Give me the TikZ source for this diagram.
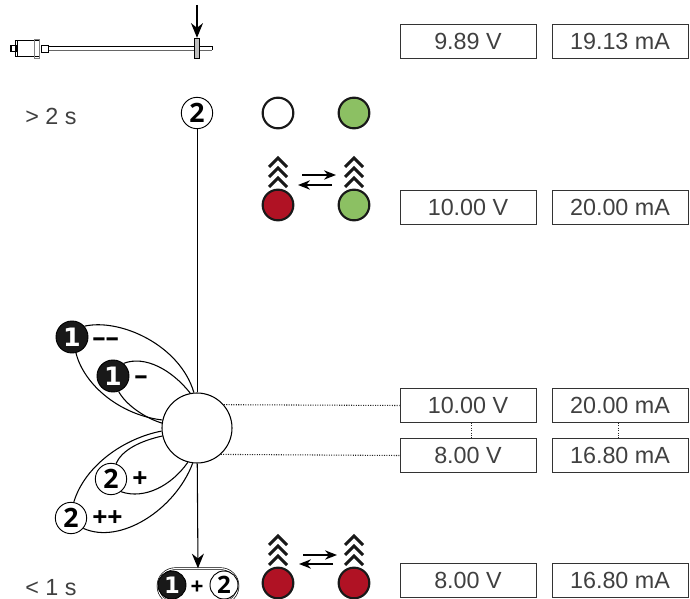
\documentclass[tikz,border=0pt]{standalone}
\usepackage{fontspec}
\setmainfont{Liberation Sans}
\newfontfamily\twofont{Open Sans}
\newfontfamily\onefont{DejaVu Sans}
\usepackage{xcolor}
\usepackage{tikz}
\usetikzlibrary{arrows.meta}
\definecolor{lampgreen}{HTML}{8CC063}
\definecolor{lampred}{HTML}{B01224}
\tikzstyle{valbox} = [rectangle, minimum width=102pt, minimum height=25.5pt, inner sep=0pt, draw=black!80, line width=0.7pt, text=black!75, font=\fontsize{17.5}{18}\selectfont]
\tikzstyle{timetext} = [text=black!75, font=\fontsize{17.5}{18}\selectfont, inner sep=0pt]
\tikzstyle{lamp} = [circle, minimum size=23pt, inner sep=0pt, draw=black!90, line width=1.6pt]
\tikzstyle{keytwo} = [circle, minimum size=23.5pt, inner sep=0pt, draw=black, line width=0.7pt, fill=white, font=\twofont\bfseries\fontsize{20}{20}\selectfont]
\tikzstyle{keyone} = [circle, minimum size=24pt, inner sep=0pt, draw=black, line width=0.7pt, fill=black!90, text=white, font=\onefont\bfseries\fontsize{19}{20}\selectfont]
\tikzstyle{sign} = [inner sep=0pt, font=\twofont\bfseries\fontsize{20}{20}\selectfont]
\tikzstyle{petal} = [line width=0.8pt]
\tikzstyle{arrow} = [line width=0.8pt,-{Stealth[length=11pt,width=9pt]}]
\tikzstyle{smallarrow} = [line width=1.1pt,-{Stealth[length=9pt,width=7pt]}]
\tikzstyle{dots} = [densely dotted, line width=0.8pt, black!85]
\tikzstyle{chevron} = [line width=2.2pt, black!90, line join=miter]
\begin{document}
\begin{tikzpicture}[x=0.75pt,y=-0.75pt,node distance=114pt]
\clip (0,0) rectangle (690,599);

% sensor
\draw[line width=0.9pt] (48,46.5) -- (212,46.5);
\draw[line width=0.4pt, black!60] (48,50.5) -- (212,50.5);
\draw[line width=0.6pt] (212,46.5) -- (212,50.5);
\draw[line width=0.7pt] (15,40.5) rectangle (39,56.5);
\draw[line width=0.7pt] (17,40.5) -- (17,56.5);
\draw[line width=0.5pt, black!50] (34,39) rectangle (39,58);
\draw[line width=0.9pt] (11,45.5) rectangle (17,51.5);
\draw[line width=0.7pt] (41,45) rectangle (48,52);
\node (flange) [rectangle, minimum width=4pt, minimum height=15.5pt, inner sep=0pt, draw=black, line width=0.6pt, fill=black!25] at (197,48.5) {};
\coordinate (press) at (197,5);
\draw [arrow] (press) -- (flange.north);

% times
\node (long) [timetext, anchor=west] at (25,116) {> 2 s};
\node (short) [timetext, anchor=west] at (25,588) {< 1 s};

% value boxes
\node (volt1) [valbox] at (468,41) {9.89 V};
\node (curr1) [valbox, right of=volt1] {19.13 mA};
\node (volt2) [valbox] at (468,207.5) {10.00 V};
\node (curr2) [valbox, right of=volt2] {20.00 mA};
\node (volt3) [valbox] at (468,405.5) {10.00 V};
\node (curr3) [valbox, right of=volt3] {20.00 mA};
\node (volt4) [valbox] at (468,455.5) {8.00 V};
\node (curr4) [valbox, right of=volt4] {16.80 mA};
\node (volt5) [valbox] at (468,580) {8.00 V};
\node (curr5) [valbox, right of=volt5] {16.80 mA};

% lamps
\node (lampa) [lamp] at (278,113) {};
\node (lampb) [lamp, fill=lampgreen] at (354,113) {};
\node (lampc) [lamp, fill=lampred] at (278,205) {};
\node (lampd) [lamp, fill=lampgreen] at (354,205) {};
\node (lampe) [lamp, fill=lampred] at (278,583) {};
\node (lampf) [lamp, fill=lampred] at (354,583) {};

\foreach \l in {lampc,lampd,lampe,lampf}
  \foreach \h in {-47,-37,-27}
    \draw [chevron] ([shift={(-9,\h+9)}]\l.center) -- ([shift={(0,\h)}]\l.center) -- ([shift={(9,\h+9)}]\l.center);

\draw [smallarrow] ([shift={(24,-30)}]lampc.center) -- ([shift={(-18,-30)}]lampd.center);
\draw [smallarrow] ([shift={(-22,-20)}]lampd.center) -- ([shift={(20,-20)}]lampc.center);
\draw [smallarrow] ([shift={(25,-28)}]lampe.center) -- ([shift={(-17,-28)}]lampf.center);
\draw [smallarrow] ([shift={(-21,-19)}]lampf.center) -- ([shift={(21,-19)}]lampe.center);

% keys
\node (hub) [circle, minimum size=52.5pt, inner sep=0pt, draw=black, line width=0.8pt, fill=white] at (197,428) {};
\node (start) [keytwo] at (197,113) {2};
\node (minusb) [keyone] at (72,337) {1};
\node (minusa) [keyone] at (113,376) {1};
\node (plusa) [keytwo] at (111,479) {2};
\node (plusb) [keytwo] at (71,518) {2};
\node (minusbsign) [sign, anchor=west] at (92,342) {––};
\node (minusasign) [sign, anchor=west] at (134,380) {–};
\node (plusasign) [sign, anchor=west] at (132,480) {+};
\node (plusbsign) [sign, anchor=west] at (92,519) {++};

\draw [petal] (minusb.41) .. controls (120,318) and (180,345) .. (hub.95);
\draw [petal] (minusb.-76) .. controls (84,385) and (120,415) .. (hub.167);
\draw [petal] (minusa.50) .. controls (145,355) and (172,370) .. (hub.101);
\draw [petal] (minusa.-70) .. controls (126,405) and (145,418) .. (hub.172);
\draw [petal] (plusa.72) .. controls (122,450) and (140,441) .. (hub.193);
\draw [petal] (plusa.-52) .. controls (145,500) and (172,485) .. (hub.-105);
\draw [petal] (plusb.80) .. controls (85,465) and (125,438) .. (hub.185);
\draw [petal] (plusb.-40) .. controls (120,545) and (175,510) .. (hub.-97);

\draw [line width=0.7pt] (start) -- (hub);

% both keys
\node (pair) [rectangle, rounded corners=13pt, minimum width=60pt, minimum height=26pt, inner sep=0pt, draw=black, line width=0.5pt, double, double distance=0.9pt] at (198,586) {};
\node (pairone) [keyone, minimum size=21pt, font=\onefont\bfseries\fontsize{17}{18}\selectfont] at (172,585) {1};
\node (pairtwo) [keytwo, minimum size=21pt, font=\twofont\bfseries\fontsize{18}{18}\selectfont] at (224,585) {2};
\node (pairplus) [sign, font=\twofont\bfseries\fontsize{17}{18}\selectfont] at (197,588) {+};
\draw [arrow] (hub) -- (pair.north);

% dotted links
\draw [dots] (hub.41) -- (volt3.west);
\draw [dots] (hub.-48) -- (volt4.west);
\draw [dots] ([xshift=2.5pt]volt3.south) -- ([xshift=2.5pt]volt4.north);
\draw [dots] ([xshift=-1pt]curr3.south) -- ([xshift=-1pt]curr4.north);

\end{tikzpicture}
\end{document}
